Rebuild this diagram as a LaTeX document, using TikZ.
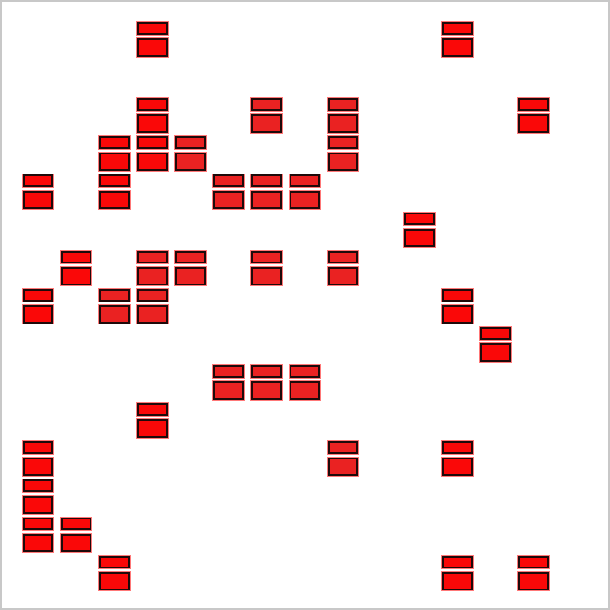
\documentclass[tikz,border=0pt]{standalone}
\definecolor{brightred}{RGB}{250,8,8}
\definecolor{dullred}{RGB}{234,34,34}
\definecolor{framegray}{RGB}{200,200,200}
\definecolor{halo}{RGB}{255,120,120}
\definecolor{edge}{RGB}{30,10,10}
\tikzset{
  halobox/.style={fill=halo},
  brickbox/.style={draw=edge, line width=1.9pt},
}
\newcommand{\brick}[3]{%
  \pgfmathsetmacro{\bl}{21.7+38.125*#1}%
  \pgfmathsetmacro{\bt}{21+38.125*#2}%
  \fill[halobox] (\bl,\bt) rectangle ++(32.6,14.6);
  \fill[halobox] (\bl,\bt+16.2) rectangle ++(32.6,20.4);
  \draw[brickbox, fill=#3] (\bl+1.9,\bt+1.9) rectangle ++(28.8,10.8);
  \draw[brickbox, fill=#3] (\bl+1.9,\bt+18.1) rectangle ++(28.8,16.6);
}
\begin{document}
\begin{tikzpicture}[x=1pt,y=-1pt]
\useasboundingbox (0,0) rectangle (610,610);
\fill[white] (0,0) rectangle (610,610);
\draw[framegray, line width=1.6pt] (0.8,0.8) rectangle (608.8,608.8);
\foreach \c/\r/\s in {
  3/0/brightred, 11/0/brightred,
  3/2/brightred, 6/2/dullred, 8/2/dullred, 13/2/brightred,
  2/3/brightred, 3/3/brightred, 4/3/dullred, 8/3/dullred,
  0/4/brightred, 2/4/brightred, 5/4/dullred, 6/4/dullred, 7/4/dullred,
  10/5/brightred,
  1/6/brightred, 3/6/dullred, 4/6/dullred, 6/6/dullred, 8/6/dullred,
  0/7/brightred, 2/7/dullred, 3/7/dullred, 11/7/brightred,
  12/8/brightred,
  5/9/dullred, 6/9/dullred, 7/9/dullred,
  3/10/brightred,
  0/11/brightred, 8/11/dullred, 11/11/brightred,
  0/12/brightred,
  0/13/brightred, 1/13/brightred,
  2/14/brightred, 11/14/brightred, 13/14/brightred}
{
  \brick{\c}{\r}{\s}
}
\end{tikzpicture}
\end{document}
